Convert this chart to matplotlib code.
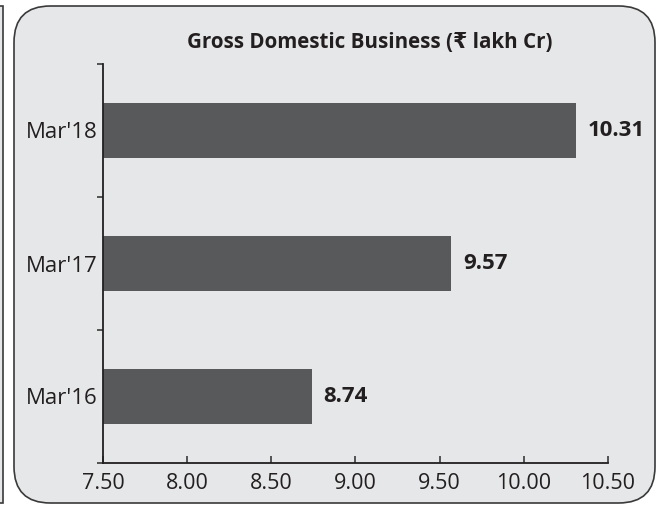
import matplotlib
matplotlib.use("Agg")
import matplotlib.pyplot as plt
from matplotlib.patches import FancyBboxPatch, Rectangle

plt.rcParams['font.family'] = ['Open Sans', 'DejaVu Sans']

# Data
periods = ["Mar'16", "Mar'17", "Mar'18"]
business = [8.74, 9.57, 10.31]
x_ticks = [7.50, 8.00, 8.50, 9.00, 9.50, 10.00, 10.50]

text_color = '#231f20'
bar_color = '#58595b'
panel_color = '#e6e7e8'

fig = plt.figure(figsize=(6.61, 5.09), dpi=100)

# rounded panel background
panel = FancyBboxPatch((14 / 661, 6 / 509), 641 / 661, 497 / 509,
                       boxstyle='round,pad=0,rounding_size=0.055',
                       transform=fig.transFigure, facecolor=panel_color,
                       edgecolor='#3a3a3a', linewidth=1.2, zorder=-1,
                       mutation_aspect=661 / 509)
fig.patches.append(panel)
# edge of neighbouring panel, cut off on the left
fig.patches.append(Rectangle((-10 / 661, 6 / 509), 13 / 661, 497 / 509,
                             transform=fig.transFigure, facecolor=panel_color,
                             edgecolor='#3a3a3a', linewidth=1.2, zorder=-1))

ax = fig.add_axes([103 / 661, 46 / 509, 505 / 661, 399 / 509])
ax.set_zorder(2)
ax.set_facecolor('none')

pos = range(len(periods))
ax.barh(pos, business, height=0.41, left=0, color=bar_color, zorder=2)

for p, v in zip(pos, business):
    ax.text(v + 0.07, p, f'{v:.2f}', va='center', ha='left',
            fontsize=16, fontweight='bold', color=text_color)

ax.set_xlim(7.5, 10.5)
ax.set_ylim(-0.5, 2.5)
ax.set_xticks(x_ticks)
ax.set_xticklabels([f'{t:.2f}' for t in x_ticks], fontsize=15.5, color=text_color)
ax.set_yticks(list(pos))
ax.set_yticklabels(periods, fontsize=16, color=text_color)
ax.set_yticks([-0.5, 0.5, 1.5, 2.5], minor=True)

ax.tick_params(axis='y', which='major', length=0, pad=4)
ax.tick_params(axis='y', which='minor', length=4, width=1.2, direction='out',
               color='#3a3a3a')
ax.tick_params(axis='x', length=5, width=1.2, direction='in', pad=7,
               color='#3a3a3a')

for side in ['top', 'right']:
    ax.spines[side].set_visible(False)
for side in ['left', 'bottom']:
    ax.spines[side].set_color('#231f20')
    ax.spines[side].set_linewidth(1.3)

fig.text(370 / 661, 466 / 509, 'Gross Domestic Business (₹ lakh Cr)',
         ha='center', va='center', fontsize=14.8, fontweight='bold',
         color=text_color)

fig.savefig('out.png', dpi=100, facecolor='white')
